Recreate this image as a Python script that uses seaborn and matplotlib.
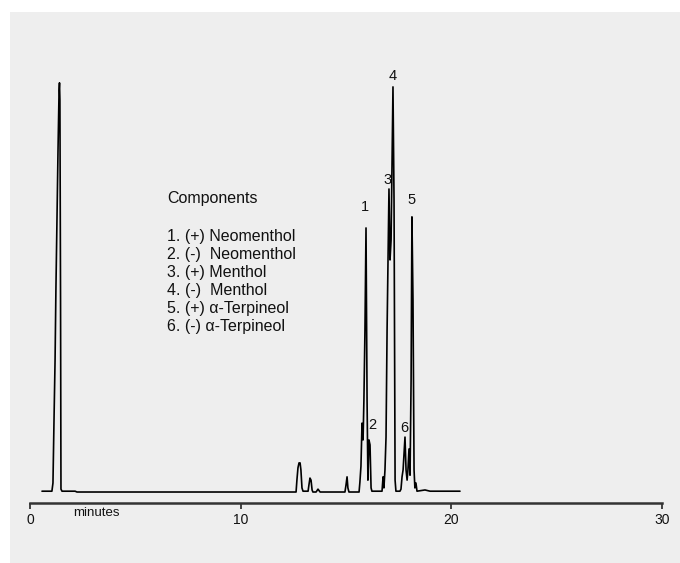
import matplotlib
matplotlib.use("Agg")
import matplotlib.pyplot as plt
from matplotlib.patches import Rectangle
import pandas as pd
import seaborn as sns

# ---- data (time in minutes, detector signal in arbitrary units) ----
time_min = [0.57, 1.04, 1.09, 1.14, 1.19, 1.23, 1.28, 1.33, 1.38, 1.40, 1.42, 1.45, 1.47, 1.52,
            2.14, 2.23, 12.63, 12.67, 12.72, 12.77, 12.82, 12.86, 12.91, 12.96, 13.20, 13.24,
            13.29, 13.34, 13.39, 13.43, 13.58, 13.67, 13.77, 14.95, 15.00, 15.05, 15.09, 15.14,
            15.62, 15.66, 15.71, 15.76, 15.81, 15.85, 15.90, 15.95, 16.00, 16.04, 16.09, 16.14,
            16.19, 16.23, 16.71, 16.76, 16.80, 16.85, 16.90, 16.95, 17.04, 17.09, 17.14, 17.23,
            17.28, 17.33, 17.37, 17.56, 17.61, 17.66, 17.71, 17.80, 17.85, 17.90, 17.94, 17.99,
            18.04, 18.09, 18.13, 18.18, 18.23, 18.27, 18.32, 18.37, 18.75, 18.99, 20.41]
signal = [0.2, 0.2, 2.2, 17.6, 32.2, 49.3, 66.3, 83.4, 98.0, 99.8, 95.6, 46.8, 0.7, 0.2,
          0.2, 0.0, 0.0, 2.9, 5.9, 7.1, 7.1, 5.4, 1.0, 0.2, 0.2, 1.7,
          3.4, 2.9, 0.5, 0.0, 0.0, 0.7, 0.0, 0.0, 1.7, 3.7, 1.0, 0.0,
          0.0, 2.4, 6.3, 16.8, 12.7, 22.4, 39.5, 64.4, 22.4, 2.9, 12.7, 11.5,
          1.0, 0.2, 0.2, 3.7, 1.0, 5.4, 13.4, 39.5, 73.9, 56.6, 61.5, 98.8,
          71.2, 2.9, 0.2, 0.2, 0.7, 3.7, 5.4, 13.4, 5.4, 2.9, 5.4, 10.5,
          4.1, 27.3, 67.1, 46.8, 5.4, 1.0, 2.2, 0.2, 0.5, 0.2, 0.2]

peak_ids = ["1", "2", "3", "4", "5", "6"]
peak_label_time = [15.90, 16.23, 16.95, 17.23, 18.13, 17.75]
peak_label_height = [69.5, 16.3, 76.1, 101.5, 71.2, 15.6]

components_title = "Components"
components = ["1. (+) Neomenthol", "2. (-)  Neomenthol", "3. (+) Menthol",
              "4. (-)  Menthol", "5. (+) \u03b1-Terpineol", "6. (-) \u03b1-Terpineol"]

x_ticks = [0, 10, 20, 30]
x_label = "minutes"

# ---- figure ----
sns.set_style("white")
plt.rcParams["font.family"] = ["Liberation Sans", "DejaVu Sans"]

W, H = 680, 563
fig = plt.figure(figsize=(W / 100, H / 100), dpi=100)
fig.patch.set_facecolor("white")
fig.patches.append(Rectangle((10 / W, 0), 1 - 10 / W, 1 - 12 / H,
                             transform=fig.transFigure, facecolor="#eeeeee",
                             edgecolor="none", zorder=-10))

ax = fig.add_axes([30 / W, (H - 503) / H, 632 / W, 491 / H])
ax.set_facecolor("none")
ax.set_zorder(5)

df = pd.DataFrame({"time": time_min, "signal": signal})
sns.lineplot(data=df, x="time", y="signal", ax=ax, sort=False, estimator=None,
             color="black", linewidth=1.2)

ax.set_xlim(0, 30)
ax.set_ylim(-2.68, 117.07)
ax.set_xticks(x_ticks)
ax.set_xticklabels([str(t) for t in x_ticks])
ax.set_yticks([])
ax.set_xlabel("")
ax.set_ylabel("")
for side in ["top", "right", "left"]:
    ax.spines[side].set_visible(False)
ax.spines["bottom"].set_color("#333333")
ax.spines["bottom"].set_linewidth(1.8)
ax.tick_params(axis="x", direction="out", length=4.5, width=1.3, color="#333333",
               labelsize=10, pad=3, labelcolor="#111111", bottom=True)

for pid, pt, ph in zip(peak_ids, peak_label_time, peak_label_height):
    ax.text(pt, ph, pid, ha="center", va="center", fontsize=10.5, color="#111111")

fig.text(73 / W, 1 - 513 / H, x_label, ha="left", va="center", fontsize=9.5, color="#111111")

fig.text(167 / W, 1 - 198 / H, components_title, ha="left", va="center",
         fontsize=11.5, color="#111111")
line_y = [237, 254.5, 272, 290, 308, 326]
for txt, yy in zip(components, line_y):
    fig.text(167 / W, 1 - yy / H, txt, ha="left", va="center", fontsize=11.5, color="#111111")

fig.savefig("out.png", dpi=100)
